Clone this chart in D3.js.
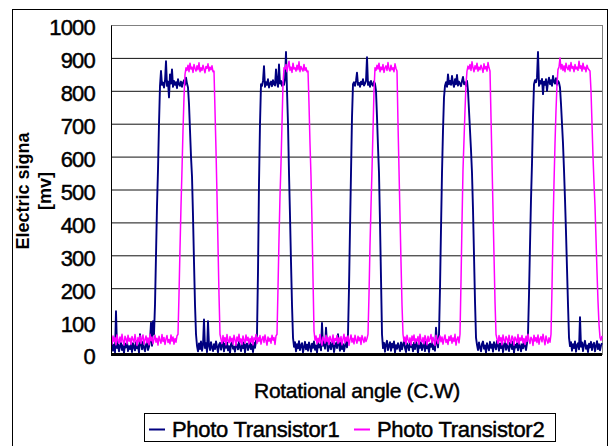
<!DOCTYPE html>
<html>
<head>
<meta charset="utf-8">
<script src="https://cdn.jsdelivr.net/npm/d3@7"></script>
<style>
  body { margin: 0; background: #fff; }
  text { font-family: "Liberation Sans", Arial, sans-serif; }
  .heavy { stroke: #000; stroke-width: 0.45px; }
</style>
</head>
<body>
<div class="chart"></div>
<script>
// Chart size
var svgWidth = 610;
var svgHeight = 446;

// plot area (pixels)
var margin = { top: 25, right: 7, bottom: 92, left: 111 };
var width = svgWidth - margin.left - margin.right;
var height = svgHeight - margin.top - margin.bottom;

// Data
var yTicks = [0, 100, 200, 300, 400, 500, 600, 700, 800, 900, 1000];
var seriesNames = ["Photo Transistor1", "Photo Transistor2"];
var seriesColors = ["#000080", "#ff00ff"];

// Photo Transistor1, one reading per sample [mV]
var pt1 = [
  22, 35, 10, 28, 5, 130, 18, 30, 8, 25,
  34, 12, 27, 3, 31, 20, 38, 9, 24, 15,
  29, 6, 33, 21, 11, 36, 17, 26, 4, 60,
  30, 14, 37, 19, 8, 28, 35, 12, 22, 40,
  95, 25, 100, 60, 150, 300, 450, 560, 700, 815,
  860, 818, 825, 810, 830, 890, 815, 828, 780, 850,
  822, 865, 812, 830, 818, 826, 808, 835, 820, 815,
  828, 812, 825, 832, 818, 840, 822, 810, 760, 680,
  600, 540, 420, 280, 150, 60, 25, 8, 32, 15,
  38, 10, 27, 105, 18, 33, 6, 100, 24, 12,
  36, 20, 9, 30, 15, 38, 22, 5, 28, 34,
  13, 26, 40, 8, 31, 19, 35, 11, 24, 3,
  29, 37, 16, 22, 7, 33, 25, 14, 38, 20,
  9, 30, 18, 36, 5, 27, 32, 12, 21, 39,
  15, 28, 6, 34, 19, 40, 60, 250, 520, 700,
  820, 815, 830, 875, 812, 826, 818, 835, 810, 822,
  828, 814, 832, 820, 816, 865, 825, 812, 880, 822,
  830, 815, 826, 818, 835, 918, 800, 700, 550, 420,
  280, 150, 50, 22, 36, 8, 30, 17, 39, 12,
  26, 33, 5, 21, 37, 14, 28, 10, 35, 23,
  7, 31, 19, 38, 13, 26, 4, 34, 20, 29,
  11, 94, 25, 37, 16, 80, 30, 9, 22, 35,
  14, 28, 40, 6, 24, 33, 18, 60, 27, 10,
  36, 15, 30, 8, 25, 38, 20, 60, 200, 380,
  550, 720, 820, 826, 815, 830, 855, 818, 824, 812,
  828, 820, 835, 816, 822, 830, 902, 818, 826, 812,
  830, 820, 815, 828, 822, 800, 720, 630, 550, 400,
  230, 60, 18, 34, 7, 29, 40, 12, 25, 36,
  10, 31, 20, 38, 5, 27, 16, 33, 22, 9,
  35, 14, 29, 39, 18, 6, 32, 24, 11, 37,
  21, 28, 8, 34, 15, 40, 26, 3, 30, 19,
  36, 12, 25, 33, 9, 38, 17, 28, 6, 31,
  22, 37, 14, 26, 10, 80, 35, 20, 60, 200,
  380, 550, 680, 780, 815, 826, 812, 850, 820, 830,
  818, 845, 822, 812, 835, 820, 848, 816, 828, 822,
  814, 830, 842, 820, 826, 815, 830, 800, 740, 680,
  620, 550, 440, 300, 160, 50, 28, 12, 35, 20,
  8, 31, 38, 16, 26, 4, 33, 22, 11, 37,
  19, 29, 7, 36, 24, 14, 40, 27, 10, 32,
  18, 35, 6, 25, 39, 13, 30, 21, 9, 34,
  26, 15, 38, 4, 28, 20, 33, 11, 36, 23,
  8, 30, 17, 37, 25, 12, 32, 60, 180, 330,
  470, 580, 720, 820, 832, 826, 840, 918, 815, 830,
  822, 836, 790, 828, 818, 835, 800, 826, 840, 820,
  832, 815, 845, 828, 822, 838, 818, 830, 825, 810,
  760, 700, 640, 560, 470, 370, 260, 150, 50, 24,
  36, 10, 30, 18, 38, 7, 27, 33, 14, 112,
  22, 35, 9, 29, 40, 16, 26, 6, 31, 20,
  37, 12, 28, 34, 8, 24, 39, 15, 30, 11,
  26, 33
];

// Photo Transistor2, one reading per sample [mV]
var pt2 = [
  45, 30, 55, 38, 50, 28, 58, 42, 33, 52,
  36, 60, 40, 27, 54, 46, 31, 57, 39, 48,
  29, 53, 44, 35, 59, 41, 26, 50, 37, 56,
  32, 47, 58, 30, 43, 55, 34, 49, 28, 60,
  40, 52, 31, 45, 57, 36, 48, 27, 54, 42,
  33, 59, 38, 50, 29, 46, 56, 35, 44, 31,
  58, 39, 52, 30, 47, 36, 55, 60, 180, 320,
  450, 560, 680, 780, 850, 870, 862, 878, 858, 884,
  866, 872, 856, 880, 868, 860, 876, 864, 885, 858,
  870, 862, 878, 866, 855, 874, 868, 882, 860, 872,
  864, 876, 858, 860, 740, 620, 480, 330, 180, 60,
  45, 32, 56, 38, 50, 28, 59, 41, 34, 53,
  37, 48, 30, 57, 43, 26, 52, 39, 60, 35,
  46, 29, 55, 42, 33, 58, 40, 51, 31, 47,
  36, 54, 28, 49, 44, 59, 32, 50, 38, 56,
  30, 45, 53, 35, 58, 41, 27, 52, 39, 48,
  33, 57, 42, 50, 29, 55, 60, 200, 350, 480,
  580, 700, 820, 870, 866, 880, 858, 874, 890, 862,
  872, 856, 884, 866, 870, 860, 878, 864, 888, 858,
  874, 866, 860, 880, 862, 870, 858, 860, 760, 640,
  540, 400, 230, 70, 42, 55, 31, 48, 36, 59,
  40, 27, 52, 45, 33, 57, 38, 50, 29, 54,
  43, 35, 58, 30, 47, 41, 56, 32, 49, 37,
  53, 28, 46, 60, 34, 51, 39, 55, 26, 44,
  58, 36, 48, 31, 57, 42, 33, 54, 40, 50,
  29, 56, 45, 35, 52, 38, 47, 60, 180, 330,
  450, 560, 680, 800, 870, 862, 878, 866, 884, 858,
  872, 864, 880, 856, 870, 876, 862, 886, 866, 860,
  878, 864, 870, 858, 882, 868, 860, 700, 560, 420,
  280, 150, 60, 38, 52, 30, 57, 44, 35, 49,
  27, 55, 41, 58, 33, 46, 39, 53, 29, 60,
  42, 36, 50, 31, 56, 45, 28, 54, 38, 47,
  59, 34, 51, 40, 26, 57, 43, 32, 48, 55,
  37, 52, 30, 46, 58, 35, 44, 29, 53, 41,
  56, 33, 49, 38, 60, 27, 45, 52, 34, 60,
  220, 400, 560, 650, 740, 820, 860, 875, 866, 880,
  862, 888, 870, 858, 876, 866, 884, 860, 872, 864,
  878, 868, 856, 882, 866, 874, 860, 886, 870, 860,
  720, 580, 440, 300, 160, 60, 45, 32, 56, 39,
  50, 28, 58, 42, 35, 53, 46, 30, 57, 40,
  33, 55, 48, 27, 52, 44, 36, 59, 31, 49,
  41, 56, 34, 47, 29, 54, 38, 60, 43, 32,
  51, 45, 26, 57, 39, 50, 35, 58, 30, 46,
  53, 37, 60, 44, 28, 55, 42, 33, 49, 36,
  60, 200, 380, 520, 640, 740, 820, 865, 872, 900,
  866, 880, 862, 876, 858, 884, 870, 864, 878, 860,
  886, 868, 874, 858, 880, 866, 872, 862, 890, 868,
  876, 860, 884, 866, 872, 858, 878, 868, 864, 860,
  800, 700, 600, 520, 450, 350, 250, 160, 90, 50,
  42, 55
];

var svg = d3.select(".chart")
  .append("svg")
  .attr("width", svgWidth)
  .attr("height", svgHeight);

// outer chart frame
svg.append("rect")
  .attr("x", 12.5)
  .attr("y", 9.5)
  .attr("width", 595)
  .attr("height", 460)
  .attr("fill", "none")
  .attr("stroke", "#000")
  .attr("stroke-width", 1);

var chartGroup = svg.append("g")
  .attr("transform", `translate(${margin.left}, ${margin.top})`);

// scales
var xScale = d3.scaleLinear()
  .domain([0, pt1.length - 1])
  .range([0, width - 1]);

var yScale = d3.scaleLinear()
  .domain([0, 1000])
  .range([height, 0]);

// horizontal gridlines
chartGroup.append("g")
  .attr("class", "grid")
  .call(d3.axisLeft(yScale)
    .tickValues(yTicks.filter(d => d > 0 && d < 1000))
    .tickSize(-width)
    .tickFormat(""))
  .call(g => g.select(".domain").remove())
  .selectAll("line")
  .attr("stroke", "#111")
  .attr("stroke-width", 1);

// plot frame
chartGroup.append("rect")
  .attr("x", 0.5)
  .attr("y", 0.5)
  .attr("width", width - 1)
  .attr("height", height)
  .attr("fill", "none")
  .attr("stroke", "#808080");

// clip for the traces
svg.append("clipPath")
  .attr("id", "plotClip")
  .append("rect")
  .attr("width", width)
  .attr("height", height);

var line = d3.line()
  .x((d, i) => xScale(i))
  .y(d => yScale(d));

var traces = chartGroup.append("g").attr("clip-path", "url(#plotClip)");

traces.append("path")
  .datum(pt1)
  .attr("fill", "none")
  .attr("stroke", seriesColors[0])
  .attr("stroke-width", 1.9)
  .attr("stroke-linejoin", "round")
  .attr("d", line);

traces.append("path")
  .datum(pt2)
  .attr("fill", "none")
  .attr("stroke", seriesColors[1])
  .attr("stroke-width", 1.5)
  .attr("stroke-linejoin", "round")
  .attr("d", line);

// left axis with tick labels
var leftAxis = chartGroup.append("g")
  .call(d3.axisLeft(yScale)
    .tickValues(yTicks)
    .tickFormat(d3.format("d"))
    .tickSize(0)
    .tickPadding(16));
leftAxis.select(".domain").attr("stroke", "#000");
leftAxis.selectAll("text")
  .attr("class", "heavy")
  .attr("dy", "0.45em")
  .style("font-size", "22px")
  .style("letter-spacing", "-0.8px")
  .attr("fill", "#000");

// thick zero line (x axis)
chartGroup.append("line")
  .attr("x1", 0)
  .attr("x2", width - 1)
  .attr("y1", yScale(0) + 0.5)
  .attr("y2", yScale(0) + 0.5)
  .attr("stroke", "#000")
  .attr("stroke-width", 3);

// y axis title
var yTitle = svg.append("text")
  .attr("transform", "translate(29, 191) rotate(-90)")
  .attr("text-anchor", "middle")
  .style("font-size", "18px")
  .style("font-weight", "bold");
yTitle.append("tspan").attr("x", 0).attr("y", 0).text("Electric signa");
yTitle.append("tspan").attr("x", 0).attr("y", 22).text("[mv]");

// x axis title
svg.append("text")
  .attr("class", "heavy")
  .attr("x", 357)
  .attr("y", 398)
  .attr("text-anchor", "middle")
  .style("font-size", "21px")
  .style("letter-spacing", "-0.3px")
  .text("Rotational angle (C.W)");

// legend
var legend = svg.append("g");
legend.append("rect")
  .attr("x", 144.5)
  .attr("y", 413.5)
  .attr("width", 411)
  .attr("height", 28)
  .attr("fill", "#fff")
  .attr("stroke", "#000");

var legendX = [149, 354];
seriesNames.forEach(function(name, i) {
  legend.append("line")
    .attr("x1", legendX[i])
    .attr("x2", legendX[i] + 16)
    .attr("y1", 429.5)
    .attr("y2", 429.5)
    .attr("stroke", seriesColors[i])
    .attr("stroke-width", 2);
  legend.append("text")
    .attr("class", "heavy")
    .attr("x", legendX[i] + 23)
    .attr("y", 437)
    .style("font-size", "22px")
    .style("letter-spacing", "-0.3px")
    .text(name);
});
</script>
</body>
</html>
